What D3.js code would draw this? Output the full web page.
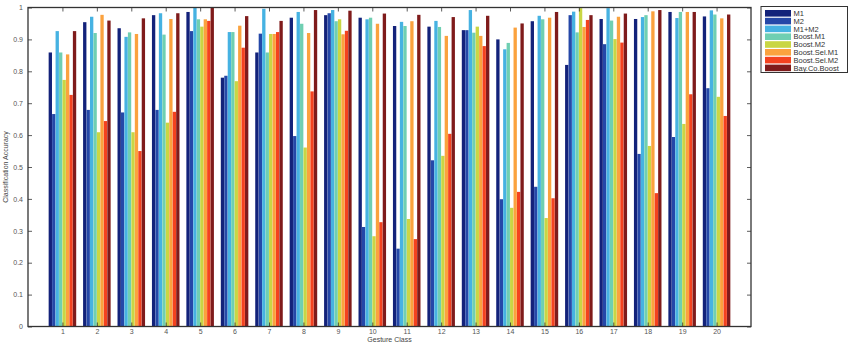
<!DOCTYPE html>
<html>
<head>
<meta charset="utf-8">
<script src="https://cdn.jsdelivr.net/npm/d3@7"></script>
<style>
  body { margin: 0; background: #fff; }
  svg { display: block; font-family: "Liberation Sans", Arial, sans-serif; }
  .tick text { fill: #555; font-size: 7px; }
  .axis-label { fill: #444; font-size: 7px; }
  .legend text { fill: #333; font-size: 7.5px; }
</style>
</head>
<body>
<div id="chart"></div>
<script>
const classes = d3.range(1, 21);
const seriesNames = ["M1", "M2", "M1+M2", "Boost.M1", "Boost.M2", "Boost.Sel.M1", "Boost.Sel.M2", "Bay.Co.Boost"];
const seriesColors = ["#13227a", "#2548a8", "#46b2e2", "#6fcfb2", "#c9d644", "#fba23e", "#f4421f", "#7f1b1b"];
const yTicks = d3.range(0, 1.01, 0.1);

const m1        = [0.859, 0.954, 0.935, 0.976, 0.986, 0.780, 0.859, 0.968, 0.976, 0.968, 0.942, 0.940, 0.929, 0.900, 0.957, 0.820, 0.964, 0.964, 0.986, 0.972];
const m2        = [0.666, 0.679, 0.671, 0.679, 0.926, 0.786, 0.918, 0.597, 0.982, 0.312, 0.244, 0.521, 0.929, 0.399, 0.438, 0.976, 0.885, 0.541, 0.594, 0.747];
const m1m2      = [0.926, 0.971, 0.908, 0.982, 1.000, 0.923, 0.996, 0.986, 0.992, 0.963, 0.955, 0.958, 0.992, 0.869, 0.974, 0.987, 0.998, 0.970, 0.967, 0.991];
const boostM1   = [0.859, 0.920, 0.922, 0.915, 0.963, 0.923, 0.859, 0.949, 0.957, 0.968, 0.942, 0.939, 0.921, 0.889, 0.963, 0.922, 0.959, 0.976, 0.986, 0.978];
const boostM2   = [0.773, 0.609, 0.609, 0.639, 0.940, 0.769, 0.917, 0.561, 0.963, 0.283, 0.337, 0.535, 0.940, 0.372, 0.340, 0.998, 0.901, 0.566, 0.635, 0.720];
const boostSel1 = [0.853, 0.977, 0.917, 0.964, 0.963, 0.943, 0.917, 0.920, 0.916, 0.949, 0.957, 0.911, 0.911, 0.937, 0.968, 0.939, 0.971, 0.988, 0.986, 0.966];
const boostSel2 = [0.726, 0.644, 0.550, 0.673, 0.958, 0.874, 0.923, 0.737, 0.927, 0.327, 0.274, 0.604, 0.879, 0.422, 0.402, 0.961, 0.890, 0.418, 0.728, 0.660];
const bayCo     = [0.926, 0.959, 0.966, 0.982, 1.000, 0.973, 0.958, 0.992, 0.990, 0.981, 0.977, 0.970, 0.974, 0.950, 0.986, 0.976, 0.981, 0.992, 0.986, 0.978];

const seriesValues = [m1, m2, m1m2, boostM1, boostM2, boostSel1, boostSel2, bayCo];

const W = 854, H = 346;
const plot = { left: 28, right: 751, top: 7.5, bottom: 326.5 };

const svg = d3.select("#chart").append("svg")
    .attr("width", W)
    .attr("height", H);

const x = d3.scaleLinear().domain([0, 21]).range([plot.left, plot.right]);
const y = d3.scaleLinear().domain([0, 1]).range([plot.bottom, plot.top]);

const groupW = x(0.8) - x(0);
const xInner = d3.scaleBand()
    .domain(seriesNames)
    .range([-groupW / 2, groupW / 2])
    .paddingInner(0.04);

const flat = [];
classes.forEach((c, i) => {
    seriesNames.forEach((s, j) => {
        flat.push({ cls: c, series: s, value: seriesValues[j][i], color: seriesColors[j] });
    });
});

svg.append("g")
    .selectAll("rect")
    .data(flat)
    .enter()
    .append("rect")
    .attr("x", d => x(d.cls) + xInner(d.series))
    .attr("y", d => y(d.value))
    .attr("width", xInner.bandwidth())
    .attr("height", d => y(0) - y(d.value))
    .attr("fill", d => d.color);

// axes box, matlab style with ticks pointing in
const axisColor = "#333";

const gLeft = svg.append("g")
    .attr("transform", `translate(${plot.left},0)`)
    .call(d3.axisLeft(y).tickValues(yTicks).tickSize(-4).tickPadding(5).tickFormat(d3.format("~g")));

const gRight = svg.append("g")
    .attr("transform", `translate(${plot.right},0)`)
    .call(d3.axisRight(y).tickValues(yTicks).tickSize(-4).tickFormat(""));

const gBottom = svg.append("g")
    .attr("transform", `translate(0,${plot.bottom})`)
    .call(d3.axisBottom(x).tickValues(classes).tickSize(-4).tickPadding(3).tickFormat(d3.format("d")));

const gTop = svg.append("g")
    .attr("transform", `translate(0,${plot.top})`)
    .call(d3.axisTop(x).tickValues(classes).tickSize(-4).tickFormat(""));

[gLeft, gRight, gBottom, gTop].forEach(g => {
    g.select(".domain").remove();
    g.selectAll(".tick line").attr("stroke", axisColor).attr("stroke-width", 0.8);
});

svg.append("rect")
    .attr("x", plot.left)
    .attr("y", plot.top)
    .attr("width", plot.right - plot.left)
    .attr("height", plot.bottom - plot.top)
    .attr("fill", "none")
    .attr("stroke", axisColor)
    .attr("stroke-width", 1.3);

svg.append("text")
    .attr("class", "axis-label")
    .attr("x", (plot.left + plot.right) / 2)
    .attr("y", 342)
    .attr("text-anchor", "middle")
    .text("Gesture Class");

svg.append("text")
    .attr("class", "axis-label")
    .attr("transform", "rotate(-90)")
    .attr("x", -(plot.top + plot.bottom) / 2)
    .attr("y", 8)
    .attr("text-anchor", "middle")
    .text("Classification Accuracy");

// legend
const legend = svg.append("g").attr("class", "legend");
const rowH = 7.8;

legend.append("rect")
    .attr("x", 761)
    .attr("y", 6.5)
    .attr("width", 86.5)
    .attr("height", 66)
    .attr("fill", "#fff")
    .attr("stroke", axisColor)
    .attr("stroke-width", 1);

const rows = legend.selectAll("g.row")
    .data(seriesNames)
    .enter()
    .append("g")
    .attr("class", "row")
    .attr("transform", (d, i) => `translate(0,${13.3 + i * rowH})`);

rows.append("rect")
    .attr("x", 765)
    .attr("y", -3.3)
    .attr("width", 26)
    .attr("height", 6.6)
    .attr("fill", (d, i) => seriesColors[i]);

rows.append("text")
    .attr("x", 793.5)
    .attr("y", 2.6)
    .text(d => d);
</script>
</body>
</html>
